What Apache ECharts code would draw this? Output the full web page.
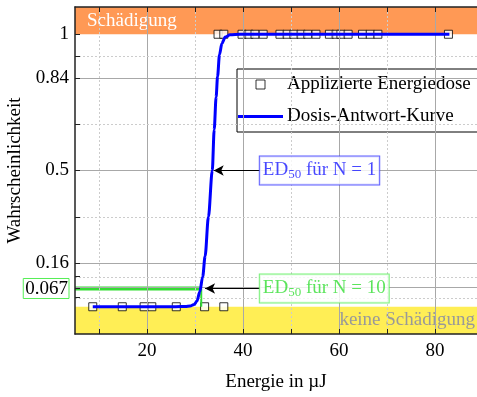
<!DOCTYPE html>
<html>
<head>
<meta charset="utf-8">
<script src="https://cdn.jsdelivr.net/npm/echarts@6/dist/echarts.min.js"></script>
<style>
  html, body { margin: 0; padding: 0; background: #fff; }
  #chart { width: 477px; height: 397px; }
</style>
</head>
<body>
<div id="chart"></div>
<script>
// applied energies (µJ): damage (p = 1) and no damage (p = 0)
const energyDamage = [34.8, 36.0, 39.8, 41.25, 42.5, 44.2, 47.7, 49.2, 50.6, 52.1, 53.5, 55.2, 58.0, 59.4, 60.4, 61.9, 64.9, 66.5, 68.1, 82.8];
const energyNoDamage = [8.7, 14.85, 19.4, 21.0, 26.1, 32.0, 36.0];

// dose-response curve
const curveX = [8.7, 26, 28, 29, 29.8, 30.4, 31.0, 31.6, 32.1, 32.8, 33.6, 34.0, 34.4, 34.7, 35.1, 35.6, 36.3, 37.3, 39.4, 83];
const curveY = [0, 0, 0.001, 0.003, 0.008, 0.02, 0.055, 0.11, 0.185, 0.33, 0.5, 0.65, 0.77, 0.845, 0.925, 0.966, 0.99, 0.998, 1, 1];

const ed50N1 = 33.9;
const ed50N10 = 31.3;
const pN10 = 0.067;
const labelX = 43.5;

const xTickMajor = [20, 40, 60, 80];
const xTickMinor = [10, 30, 50, 70];
const yTickMajor = [0, 0.067, 0.16, 0.5, 0.84, 1];
const yTickMinor = [0.0335, 0.1135, 0.33, 0.67, 0.92];
const yLabels = [0, 0.067, 0.16, 0.5, 0.84, 1];

const serif = 'Liberation Serif';
const fs = 19;
const green = '#33dd33';

const chart = echarts.init(document.getElementById('chart'), null, { renderer: 'canvas' });

const gridLines = [
  ...xTickMajor.map(v => ({ xAxis: v, lineStyle: { color: '#a8a8a8', width: 1, type: 'solid' } })),
  ...xTickMinor.map(v => ({ xAxis: v, lineStyle: { color: '#cccccc', width: 1, type: [2, 2] } })),
  ...yTickMajor.filter(v => v > 0 && v < 1).map(v => ({ yAxis: v, lineStyle: { color: '#a8a8a8', width: 1, type: 'solid' } })),
  ...yTickMinor.map(v => ({ yAxis: v, lineStyle: { color: '#cccccc', width: 1, type: [2, 2] } }))
];

const edRich = (col) => ({
  a: { fontFamily: serif, fontSize: fs, color: col },
  s: { fontFamily: serif, fontSize: 13, color: col, padding: [9, 0, 0, 0] }
});

const option = {
  animation: false,
  grid: { left: 75, top: 7, width: 402, height: 327, containLabel: false, outerBoundsMode: 'none' },
  legend: {
    orient: 'vertical',
    left: 237,
    top: 69,
    width: 235,
    padding: [6, 10, 6, 1],
    itemWidth: 45,
    itemHeight: 9,
    itemGap: 13,
    backgroundColor: '#fff',
    borderColor: '#000',
    borderWidth: 1,
    textStyle: { fontFamily: serif, fontSize: fs, color: '#000', padding: [0, 0, 0, -1] },
    data: [
      { name: 'Applizierte Energiedose', icon: 'path://M0,0H10V10H0Z',
        itemStyle: { color: '#fff', borderColor: '#000', borderWidth: 1 } },
      { name: 'Dosis-Antwort-Kurve', icon: 'path://M0,0H45V3H0Z',
        itemStyle: { color: '#0000ff', borderWidth: 0 } }
    ]
  },
  xAxis: [
    {
      type: 'value', min: 5, max: 88.75, position: 'bottom', z: 10,
      axisLine: { show: true, onZero: false, lineStyle: { color: '#222', width: 1.5 } },
      axisTick: { show: true, inside: true, length: 5, customValues: [...xTickMinor, ...xTickMajor], lineStyle: { color: '#222' } },
      axisLabel: { customValues: xTickMajor, fontFamily: serif, fontSize: fs, color: '#000', margin: 8 },
      splitLine: { show: false },
      name: 'Energie in µJ', nameLocation: 'middle', nameGap: 39, nameMoveOverlap: false,
      nameTextStyle: { fontFamily: serif, fontSize: fs, color: '#000' }
    },
    {
      type: 'value', min: 5, max: 88.75, position: 'top', z: 10,
      axisLine: { show: true, onZero: false, lineStyle: { color: '#222', width: 1.5 } },
      axisTick: { show: true, inside: true, length: 5, customValues: [...xTickMinor, ...xTickMajor], lineStyle: { color: '#222' } },
      axisLabel: { show: false },
      splitLine: { show: false }
    }
  ],
  yAxis: {
    type: 'value', min: -0.1, max: 1.1, z: 10,
    axisLine: { show: true, onZero: false, lineStyle: { color: '#222', width: 1.5 } },
    axisTick: { show: true, inside: true, length: 5, customValues: [...yTickMajor, ...yTickMinor], lineStyle: { color: '#222' } },
    axisLabel: {
      customValues: yLabels, fontFamily: serif, fontSize: fs, color: '#000', margin: 6,
      formatter: v => (v === pN10 ? '{g|' + v + '}' : String(v)),
      rich: {
        g: { fontFamily: serif, fontSize: fs, color: '#000', borderColor: '#55ee55', borderWidth: 1, padding: [1, 1, 0, 2] }
      }
    },
    splitLine: { show: false },
    name: 'Wahrscheinlichkeit', nameLocation: 'middle', nameRotate: 90, nameGap: 50, nameMoveOverlap: false,
    nameTextStyle: { fontFamily: serif, fontSize: fs, color: '#000' }
  },
  series: [
    {
      name: 'bands', type: 'line', data: [], z: 1, silent: true,
      markArea: {
        silent: true,
        data: [
          [{ yAxis: 1, itemStyle: { color: '#ff9955' },
             label: { show: true, position: 'insideLeft', formatter: 'Schädigung', offset: [7, 0], fontFamily: serif, fontSize: fs, color: '#fff' } },
           { yAxis: 1.1 }],
          [{ yAxis: -0.1, itemStyle: { color: '#ffee55' },
             label: { show: true, position: 'insideRight', formatter: 'keine Schädigung', offset: [3, 0], fontFamily: serif, fontSize: fs, color: '#999' } },
           { yAxis: 0 }]
        ]
      }
    },
    {
      name: 'grid', type: 'line', data: [], z: 1, silent: true,
      markLine: { silent: true, symbol: 'none', label: { show: false }, data: gridLines }
    },
    {
      name: 'Applizierte Energiedose', type: 'scatter', z: 3,
      data: [...energyDamage.map(x => [x, 1]), ...energyNoDamage.map(x => [x, 0])],
      symbol: 'rect', symbolSize: 8,
      itemStyle: { color: '#fff', borderColor: '#000', borderWidth: 1 }
    },
    {
      name: 'n10h', type: 'line', z: 4, silent: true, symbol: 'none',
      data: [[5, pN10], [ed50N10, pN10]],
      lineStyle: { color: green, width: 4 }
    },
    {
      name: 'n10v', type: 'line', z: 4, silent: true, symbol: 'none',
      data: [[ed50N10, pN10], [ed50N10, 0]],
      lineStyle: { color: green, width: 2 }
    },
    {
      name: 'Dosis-Antwort-Kurve', type: 'line', z: 5, symbol: 'none',
      data: curveX.map((x, i) => [x, curveY[i]]),
      smooth: 0.3, smoothMonotone: 'x',
      lineStyle: { color: '#0000ff', width: 3 },
      itemStyle: { color: '#0000ff' }
    },
    {
      name: 'arrows', type: 'line', data: [], z: 6, silent: true,
      markLine: {
        silent: true, symbol: ['none', 'arrow'], symbolSize: [8, 10],
        label: { show: false },
        lineStyle: { color: '#000', width: 1, type: 'solid' },
        data: [
          [{ coord: [labelX, 0.5] }, { coord: [ed50N1, 0.5] }],
          [{ coord: [labelX, pN10] }, { coord: [32.1, pN10] }]
        ]
      }
    },
    {
      name: 'labels', type: 'scatter', z: 7, silent: true,
      symbolSize: 0,
      data: [
        { value: [labelX, 0.5],
          label: { show: true, position: 'right', distance: 0,
            formatter: '{a|ED}{s|50}{a| für N = 1}', rich: edRich('#1a1aff'),
            backgroundColor: '#fff', borderColor: '#3333ff', borderWidth: 1, padding: [3, 3, 3, 3] } },
        { value: [labelX, pN10],
          label: { show: true, position: 'right', distance: 0,
            formatter: '{a|ED}{s|50}{a| für N = 10}', rich: edRich(green),
            backgroundColor: '#fff', borderColor: '#55ee55', borderWidth: 1, padding: [3, 3, 3, 3] } }
      ]
    }
  ]
};

chart.setOption(option);
</script>
</body>
</html>
